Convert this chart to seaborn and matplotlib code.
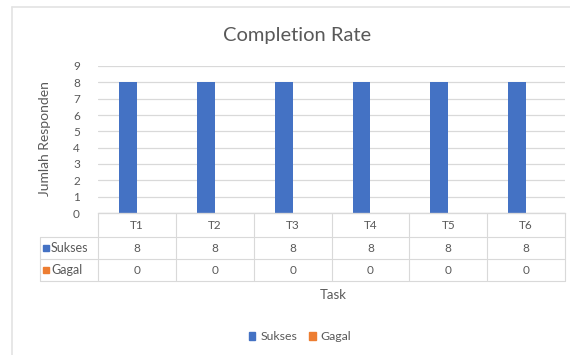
import matplotlib
matplotlib.use("Agg")
import matplotlib.pyplot as plt
from matplotlib.lines import Line2D
from matplotlib.patches import Rectangle
import seaborn as sns
import pandas as pd

# Chart data
tasks = ["T1", "T2", "T3", "T4", "T5", "T6"]
sukses = [8, 8, 8, 8, 8, 8]
gagal = [0, 0, 0, 0, 0, 0]
series_names = ["Sukses", "Gagal"]
y_ticks = [0, 1, 2, 3, 4, 5, 6, 7, 8, 9]

colors = {"Sukses": "#4472C4", "Gagal": "#ED7D31"}
text_color = "#595959"
grid_color = "#D9D9D9"
font = "Lato"

df = pd.DataFrame({
    "Task": tasks * 2,
    "Status": ["Sukses"] * len(tasks) + ["Gagal"] * len(tasks),
    "Jumlah": sukses + gagal,
})

sns.set_theme(style="white")
plt.rcParams["font.family"] = [font, "DejaVu Sans"]

W, H = 570, 355
fig = plt.figure(figsize=(W / 100, H / 100), dpi=100)
fig.patch.set_facecolor("white")


def fx(px):
    return px / W


def fy(py):
    return 1 - py / H


# plot area in pixel coordinates
x0, x1 = 98, 565
y_top, y_bot = 66, 213
ax = fig.add_axes([fx(x0), fy(y_bot), fx(x1) - fx(x0), fy(y_top) - fy(y_bot)])

sns.barplot(data=df, x="Task", y="Jumlah", hue="Status", hue_order=series_names,
            palette=colors, width=0.46, dodge=True, ax=ax, legend=False,
            saturation=1, edgecolor="none")

ax.set_ylim(0, 9)
ax.set_yticks(y_ticks)
ax.set_yticklabels([str(t) for t in y_ticks], color=text_color, fontsize=8.5)
ax.tick_params(axis="y", length=0, pad=13)
ax.set_xticks([])
ax.set_xlabel("")
ax.set_ylabel("")
ax.yaxis.grid(True, color=grid_color, linewidth=0.9)
ax.set_axisbelow(True)
for s in ["top", "right", "left"]:
    ax.spines[s].set_visible(False)
ax.spines["bottom"].set_color(grid_color)
ax.spines["bottom"].set_linewidth(0.9)

# outer chart frame
fig.add_artist(Line2D([fx(12), fx(12)], [fy(7), fy(355)], color="#E3E3E3", lw=1.2))
fig.add_artist(Line2D([fx(12), fx(570)], [fy(7), fy(7)], color="#E3E3E3", lw=1.2))

# title and axis labels
fig.text(fx(297), fy(35), "Completion Rate", ha="center", va="center",
         fontsize=14.5, color=text_color)
fig.text(fx(45), fy(139), "Jumlah Responden", ha="center", va="center",
         rotation=90, fontsize=10, color=text_color)
fig.text(fx(333), fy(295), "Task", ha="center", va="center",
         fontsize=9.5, color=text_color)

# data table under the axis
row_y = [213, 237, 259, 281]
col_x = [x0 + i * (x1 - x0) / len(tasks) for i in range(len(tasks) + 1)]
lab_x = 40
lw = 0.8
# horizontal rules
fig.add_artist(Line2D([fx(x0), fx(x1)], [fy(row_y[0])] * 2, color=grid_color, lw=lw))
for yy in row_y[1:]:
    fig.add_artist(Line2D([fx(lab_x), fx(x1)], [fy(yy)] * 2, color=grid_color, lw=lw))
# vertical rules
for xx in col_x:
    fig.add_artist(Line2D([fx(xx)] * 2, [fy(row_y[0]), fy(row_y[-1])], color=grid_color, lw=lw))
fig.add_artist(Line2D([fx(lab_x)] * 2, [fy(row_y[1]), fy(row_y[-1])], color=grid_color, lw=lw))

rows = [sukses, gagal]
for i, t in enumerate(tasks):
    cx = (col_x[i] + col_x[i + 1]) / 2
    fig.text(fx(cx), fy((row_y[0] + row_y[1]) / 2), t, ha="center", va="center",
             fontsize=8.5, color=text_color)
    for r, vals in enumerate(rows):
        fig.text(fx(cx), fy((row_y[r + 1] + row_y[r + 2]) / 2), str(vals[i]),
                 ha="center", va="center", fontsize=8.5, color=text_color)

for r, name in enumerate(series_names):
    cy = (row_y[r + 1] + row_y[r + 2]) / 2
    fig.add_artist(Rectangle((fx(43), fy(cy + 3)), fx(6), 6 / H,
                             color=colors[name], transform=fig.transFigure))
    fig.text(fx(51), fy(cy), name, ha="left", va="center",
             fontsize=9, color=text_color)

# legend at the bottom
handles = [Rectangle((0, 0), 1, 1, color=colors[n]) for n in series_names]
fig.legend(handles, series_names, loc="center", bbox_to_anchor=(fx(300), fy(337)),
           ncol=2, frameon=False, fontsize=8.8, handlelength=0.55, handleheight=0.55,
           handletextpad=0.4, columnspacing=1.0, labelcolor=text_color)

fig.savefig("out.png", dpi=100, facecolor="white")
